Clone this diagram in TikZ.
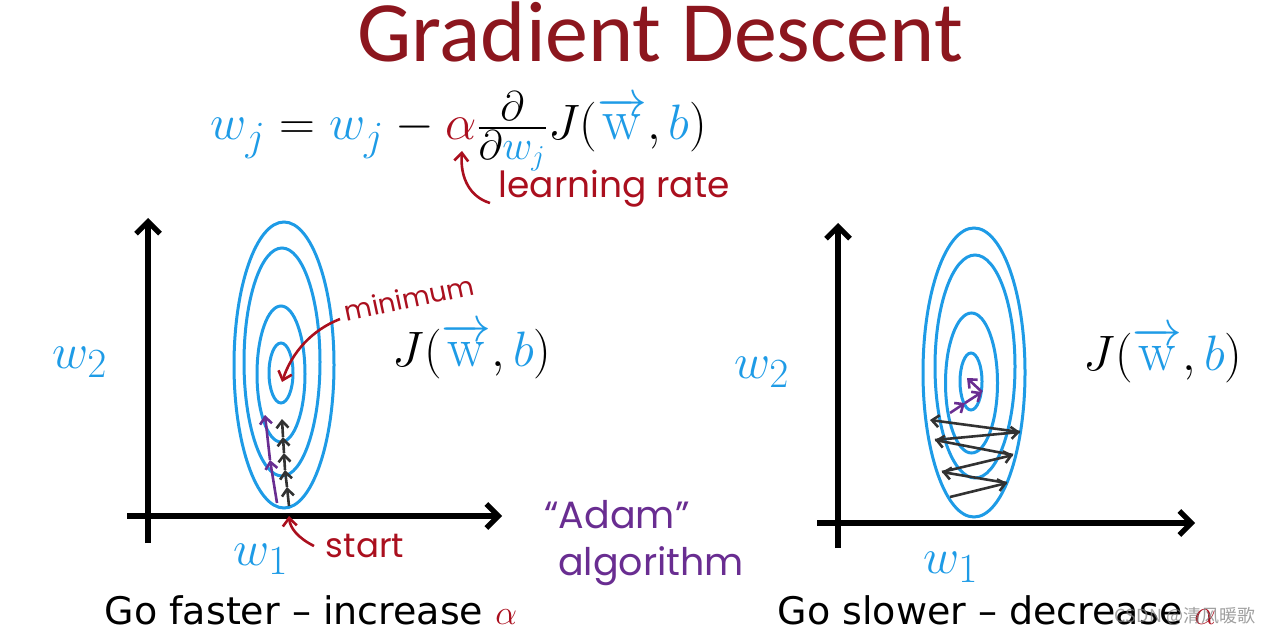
\documentclass[tikz,border=0pt]{standalone}
\usepackage{amsmath}
\usepackage{fontspec}
\usetikzlibrary{arrows.meta}
\newfontfamily\titlefont{Carlito}
\newfontfamily\capfont{DejaVu Sans}
\newfontfamily\handfont{Poppins}
\newfontfamily\cjkfont{Noto Sans CJK SC}
\definecolor{myblue}{RGB}{30,155,230}
\definecolor{titlered}{RGB}{140,22,30}
\definecolor{hred}{RGB}{170,15,30}
\definecolor{hpurple}{RGB}{105,45,145}
\definecolor{dk}{RGB}{50,50,50}
\begin{document}
\begin{tikzpicture}[x=0.5pt,y=-0.5pt,
  ell/.style={myblue,line width=1.5pt},
  axis/.style={black,line width=2.6pt,-{Straight Barb[length=6pt,width=12pt,line width=2.6pt]}},
  blk/.style={dk,line width=1.3pt,-{Straight Barb[length=3.5pt,width=6pt,line width=1.3pt]}},
  pur/.style={hpurple,line width=1.3pt,-{Straight Barb[length=3.5pt,width=6pt,line width=1.3pt]}},
  harr/.style={hred,line width=1.3pt,-{Straight Barb[length=4pt,width=7pt,line width=1.3pt]}},
  hand/.style={font=\handfont\fontsize{17}{20}\selectfont},
  mathlbl/.style={font=\fontsize{28}{30}\selectfont,inner sep=0pt,anchor=base},
  capt/.style={font=\capfont\fontsize{19}{21}\selectfont,anchor=base,inner sep=0pt},
]
\path[use as bounding box] (0,0) rectangle (1263,636);
% title
\node[anchor=base,text=titlered,font=\titlefont\fontsize{43}{46}\selectfont,inner sep=0pt] (title) at (660,62) {Gradient Descent};
% formula
\node[mathlbl,font=\fontsize{29}{31}\selectfont] (eq) at (459,140) {$\textcolor{myblue}{w_j} = \textcolor{myblue}{w_j} - \textcolor{hred}{\alpha}\tfrac{\partial}{\partial \textcolor{myblue}{w_j}}J(\textcolor{myblue}{\overrightarrow{\mathrm{w}}},\textcolor{myblue}{b})$};
\node[hand,text=hred,anchor=base,inner sep=0pt,font=\handfont\fontsize{18}{20}\selectfont] (lr) at (614,198) {learning rate};
\coordinate (lrs) at (490,203);
\coordinate (lre) at (462,151);
\draw[harr] (lrs) .. controls (470,197) and (460,178) .. (lre);

% ---------- left plot ----------
\coordinate (ly0) at (148,543);
\coordinate (ly1) at (148,218);
\coordinate (lx0) at (127,516);
\coordinate (lx1) at (502,516);
\draw[axis] (ly0) -- (ly1);
\draw[axis] (lx0) -- (lx1);
\draw[ell] (284,365) ellipse [x radius=50, y radius=143];
\draw[ell] (282,362) ellipse [x radius=38, y radius=114];
\draw[ell] (281,374) ellipse [x radius=24, y radius=68];
\draw[ell] (281,373) ellipse [x radius=12, y radius=30];
\node[mathlbl,text=myblue] (lw2) at (80,368) {$w_2$};
\node[mathlbl,text=myblue] (lw1) at (261,565) {$w_1$};
\node[mathlbl] (lJ) at (472,366) {$J(\textcolor{myblue}{\overrightarrow{\mathrm{w}}},\textcolor{myblue}{b})$};
% black small steps
\coordinate (c0) at (289,506);
\coordinate (c1) at (287,487);
\coordinate (c2) at (285,470);
\coordinate (c3) at (284,453);
\coordinate (c4) at (283,437);
\coordinate (c5) at (282,419);
\draw[blk] (c0) -- (c1);
\draw[blk] (c1) -- (c2);
\draw[blk] (c2) -- (c3);
\draw[blk] (c3) -- (c4);
\draw[blk] (c4) -- (c5);
% purple (Adam)
\coordinate (p0) at (277,503);
\coordinate (p1) at (270,460);
\coordinate (p2) at (265,415);
\draw[pur] (p0) -- (p1);
\draw[pur] (p1) -- (p2);
% minimum
\node[text=hred,rotate=12,inner sep=0pt,font=\handfont\fontsize{13.5}{16}\selectfont] (mini) at (409,298) {minimum};
\coordinate (ms) at (340,319);
\coordinate (me) at (282,382);
\draw[harr] (ms) .. controls (312,330) and (292,352) .. (me);
% start
\node[hand,text=hred,anchor=base,inner sep=0pt] (start) at (365,557) {start};
\coordinate (ss) at (314,546);
\coordinate (se) at (289,516);
\draw[harr] (ss) .. controls (298,538) and (290,528) .. (se);
% Adam
\node[text=hpurple,anchor=base,inner sep=0pt,font=\handfont\fontsize{19}{22}\selectfont] (adam) at (617,528) {“Adam”};
\node[text=hpurple,anchor=base,inner sep=0pt,font=\handfont\fontsize{19}{22}\selectfont] (algo) at (651,575) {algorithm};
\node[capt] (capl) at (311,624) {Go faster – increase \textcolor{hred}{$\alpha$}};

% ---------- right plot ----------
\coordinate (ry0) at (838,548);
\coordinate (ry1) at (838,223);
\coordinate (rx0) at (817,523);
\coordinate (rx1) at (1195,523);
\draw[axis] (ry0) -- (ry1);
\draw[axis] (rx0) -- (rx1);
\draw[ell] (974,372.5) ellipse [x radius=51, y radius=144.5];
\draw[ell] (975,366.5) ellipse [x radius=40, y radius=111.5];
\draw[ell] (971.5,383) ellipse [x radius=26, y radius=70];
\draw[ell] (971,381.5) ellipse [x radius=11, y radius=28.5];
\node[mathlbl,text=myblue] (rw2) at (762,378) {$w_2$};
\node[mathlbl,text=myblue] (rw1) at (951,573) {$w_1$};
\node[mathlbl] (rJ) at (1163,370) {$J(\textcolor{myblue}{\overrightarrow{\mathrm{w}}},\textcolor{myblue}{b})$};
\coordinate (z0) at (950,497);
\coordinate (z1) at (1007,483);
\coordinate (z2) at (942,472);
\coordinate (z3) at (1013,455);
\coordinate (z4) at (935,440);
\coordinate (z5) at (1020,432);
\coordinate (z6) at (930,420);
\draw[blk] (z0) -- (z1);
\draw[blk] (z1) -- (z2);
\draw[blk] (z2) -- (z3);
\draw[blk] (z3) -- (z4);
\draw[blk] (z4) -- (z5);
\draw[blk] (z5) -- (z6);
\coordinate (q0) at (950,413);
\coordinate (q1) at (965,403);
\coordinate (q2) at (982,392);
\coordinate (q3) at (967,378);
\draw[pur] (q0) -- (q1);
\draw[pur] (q1) -- (q2);
\draw[pur] (q2) -- (q3);
\node[capt] (capr) at (997,624) {Go slower – decrease \textcolor{hred}{$\alpha$}};
\node[font=\cjkfont\fontsize{9}{11}\selectfont,text=gray,opacity=0.75,anchor=base,inner sep=0pt] (wm) at (1185,622) {CSDN @清风暖歌};
\end{tikzpicture}
\end{document}
